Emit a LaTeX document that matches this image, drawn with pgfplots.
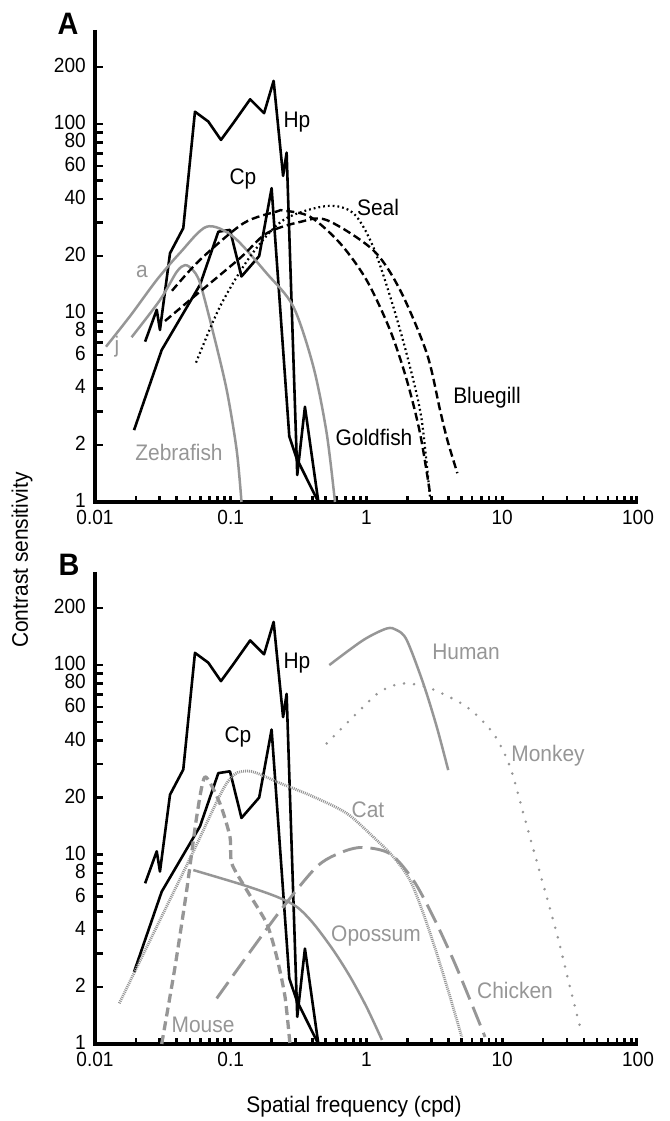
\documentclass[border=0pt]{standalone}
\usepackage{fontspec}
\setmainfont{Liberation Sans}[FakeStretch=0.93]
\usepackage{pgfplots}
\pgfplotsset{compat=1.18}
\definecolor{gcol}{RGB}{150,150,150}
\newcommand{\lf}{\fontsize{22.5}{26}\selectfont}
\newcommand{\tf}{\fontsize{20.5}{24}\selectfont}
\tikzset{
 blk/.style={black, line width=2.6pt, line join=round},
 gry/.style={gcol, line width=2.5pt, line join=round},
 tk/.style={black, line width=2.7pt, line cap=butt},
}
\begin{document}
\begin{tikzpicture}
\useasboundingbox (0pt,0pt) rectangle (669pt,1121pt);
% ---------------- Panel A ----------------
\begin{axis}[xmode=log, ymode=log, scale only axis, width=543pt, height=472pt,
  xmin=0.01, xmax=100, ymin=1, ymax=314,
  at={(95pt,619pt)}, anchor=south west,
  axis lines*=left,
  axis line style={draw=none},
  tick align=inside,
  major tick length=0pt, minor tick length=0pt,
  xtick={0.01,0.1,1,10,100}, xticklabels={0.01,0.1,1,10,100},
  ytick={1,2,4,6,8,10,20,40,60,80,100,200}, yticklabels={1,2,4,6,8,10,20,40,60,80,100,200},
  ticklabel style={font=\tf, inner sep=0pt},
  yticklabel style={xshift=-9pt, yshift=1.5pt},
  xticklabel style={yshift=-8pt},
  clip=false]
\pgfplotsinvokeforeach{0.02,0.03,0.04,0.05,0.06,0.07,0.08,0.09,0.1,0.2,0.3,0.4,0.5,0.6,0.7,0.8,0.9,1,2,3,4,5,6,7,8,9,10,20,30,40,50,60,70,80,90}{
  \draw[tk] (axis cs:#1,1) -- ([yshift=6pt]axis cs:#1,1);}
\draw[tk] ([xshift=-1.35pt]axis cs:100,1) -- ([xshift=-1.35pt,yshift=6pt]axis cs:100,1);
\pgfplotsinvokeforeach{2,3,4,5,6,7,8,9,10,20,30,40,50,60,70,80,90,100,200}{
  \draw[tk] (axis cs:0.01,#1) -- ([xshift=7.7pt]axis cs:0.01,#1);}
\draw[black, line width=3.3pt] (axis cs:0.01,314) -- (axis cs:0.01,1) -- (axis cs:100,1);
% Hp
\addplot[blk, mark=none] coordinates {(0.0234,7.05) (0.0285,10.4) (0.0301,8.13) (0.0357,20.7) (0.0447,28.1) (0.0545,116) (0.0683,103) (0.0847,82.3) (0.1044,101) (0.139,135) (0.176,114) (0.207,169) (0.243,53.1) (0.258,70.5) (0.309,1.39) (0.352,3.19) (0.442,1.0)};
% Cp
\addplot[blk, mark=none] coordinates {(0.0194,2.40) (0.031,6.37) (0.0594,14.1) (0.081,26.9) (0.0987,27.5) (0.120,15.6) (0.162,20.0) (0.200,45.7) (0.270,2.22) (0.306,1.70) (0.442,1.0)};
% Zebrafish (large)
\addplot[gry, mark=none, smooth] coordinates {(0.01205,6.63) (0.0184,9.76) (0.0285,14.95) (0.0423,20.8) (0.0665,28.6) (0.1044,25.3) (0.184,16.2) (0.289,10.8) (0.406,5.2) (0.509,2.31) (0.586,1.0)};
% Zebrafish (small)
\addplot[gry, mark=none, smooth] coordinates {(0.0186,7.44) (0.0301,11.7) (0.040,16.5) (0.046,17.9) (0.0520,17.0) (0.0594,14.4) (0.0744,7.81) (0.0934,3.91) (0.1106,1.88) (0.120,1.0)};
% Goldfish
\addplot[blk, mark=none, smooth, line width=2.4pt, dash pattern=on 8pt off 4pt] coordinates {(0.0369,13.1) (0.0594,19.1) (0.124,29.8) (0.218,34.4) (0.244,34.8) (0.384,32.3) (0.638,23.4) (1.00,14.95) (1.49,8.13) (1.98,4.42) (2.48,2.31) (2.94,1.11)};
% Bluegill
\addplot[blk, mark=none, smooth, line width=2.4pt, dash pattern=on 8pt off 4pt] coordinates {(0.0328,9.07) (0.05,11.7) (0.117,19.5) (0.184,26.4) (0.324,30.3) (0.509,31.0) (1.12,21.5) (1.77,13.2) (2.78,6.12) (3.48,3.07) (3.94,2.13) (4.67,1.42)};
% Seal
\addplot[blk, mark=none, smooth, line width=2.2pt, dash pattern=on 1.8pt off 3pt] coordinates {(0.0555,5.46) (0.0833,10.8) (0.139,19.9) (0.244,31.0) (0.509,36.8) (0.80,33.7) (1.12,22.4) (1.575,10.8) (2.09,5.2) (2.55,2.72) (2.94,1.05)};
\end{axis}
% ---------------- Panel B ----------------
\begin{axis}[xmode=log, ymode=log, scale only axis, width=543pt, height=472pt,
  xmin=0.01, xmax=100, ymin=1, ymax=310,
  at={(95pt,77pt)}, anchor=south west,
  axis lines*=left,
  axis line style={draw=none},
  tick align=inside,
  major tick length=0pt, minor tick length=0pt,
  xtick={0.01,0.1,1,10,100}, xticklabels={0.01,0.1,1,10,100},
  ytick={1,2,4,6,8,10,20,40,60,80,100,200}, yticklabels={1,2,4,6,8,10,20,40,60,80,100,200},
  ticklabel style={font=\tf, inner sep=0pt},
  yticklabel style={xshift=-9pt, yshift=1.5pt},
  xticklabel style={yshift=-8pt},
  clip=false]
\pgfplotsinvokeforeach{0.02,0.03,0.04,0.05,0.06,0.07,0.08,0.09,0.1,0.2,0.3,0.4,0.5,0.6,0.7,0.8,0.9,1,2,3,4,5,6,7,8,9,10,20,30,40,50,60,70,80,90}{
  \draw[tk] (axis cs:#1,1) -- ([yshift=6pt]axis cs:#1,1);}
\draw[tk] ([xshift=-1.35pt]axis cs:100,1) -- ([xshift=-1.35pt,yshift=6pt]axis cs:100,1);
\pgfplotsinvokeforeach{2,3,4,5,6,7,8,9,10,20,30,40,50,60,70,80,90,100,200}{
  \draw[tk] (axis cs:0.01,#1) -- ([xshift=7.7pt]axis cs:0.01,#1);}
\draw[black, line width=3.3pt] (axis cs:0.01,310) -- (axis cs:0.01,1) -- (axis cs:100,1);
% Hp
\addplot[blk, mark=none] coordinates {(0.0234,7.05) (0.0285,10.4) (0.0301,8.13) (0.0357,20.7) (0.0447,28.1) (0.0545,116) (0.0683,103) (0.0847,82.3) (0.1044,101) (0.139,135) (0.176,114) (0.207,169) (0.243,53.1) (0.258,70.5) (0.309,1.39) (0.352,3.19) (0.442,1.0)};
% Cp
\addplot[blk, mark=none] coordinates {(0.0194,2.40) (0.031,6.37) (0.0594,14.1) (0.081,26.9) (0.0987,27.5) (0.120,15.6) (0.162,20.0) (0.200,45.7) (0.270,2.22) (0.306,1.70) (0.442,1.0)};
% Human
\addplot[gry, mark=none, smooth] coordinates {(0.532,100) (0.947,135.5) (1.41,156) (1.67,153) (1.98,135.5) (2.62,80) (3.29,47.3) (4.0,27.9)};
% Monkey
\addplot[gry, mark=none, smooth, line width=2.8pt, line cap=round, dash pattern=on 0pt off 10pt] coordinates {(0.509,38.6) (0.847,55.6) (1.257,72.3) (1.87,80) (2.94,75.4) (5.47,60.2) (8.59,43.6) (11.4,29.1) (14.3,16.5) (19.0,7.96) (25.2,3.84) (31.5,2.01) (38.5,1.14)};
% Cat
\addplot[gry, mark=none, smooth, line width=2.8pt, dash pattern=on 1pt off 1pt] coordinates {(0.0151,1.64) (0.05,9.5) (0.0934,23.8) (0.134,27.6) (0.231,23.8) (0.406,20.2) (0.715,16.5) (1.12,12.4) (1.575,9.73) (2.09,7.33) (2.62,4.89) (3.29,3.01) (4.12,1.78) (5.03,1.09)};
% Chicken
\addplot[gry, mark=none, smooth, line width=2.9pt, dash pattern=on 20pt off 8pt] coordinates {(0.0788,1.74) (0.139,3.07) (0.244,5.30) (0.43,8.62) (0.638,10.2) (0.927,10.9) (1.49,10.1) (2.21,7.33) (3.1,4.70) (4.36,2.78) (5.79,1.71) (7.47,1.09)};
% Opossum
\addplot[gry, mark=none, smooth] coordinates {(0.053,8.28) (0.124,6.90) (0.218,5.99) (0.306,5.30) (0.406,4.33) (0.569,3.13) (0.756,2.27) (1.0,1.57) (1.30,1.05)};
% Mouse
\addplot[gry, mark=none, smooth, tension=0.4, line width=3.3pt, dash pattern=on 9pt off 5pt] coordinates {(0.031,1.0) (0.0389,2.56) (0.0474,6.50) (0.0561,15.8) (0.0646,25.7) (0.0833,18.6) (0.0987,12.4) (0.1016,8.99) (0.131,6.50) (0.184,4.33) (0.218,2.89) (0.251,1.78) (0.273,1.0)};
\end{axis}
% ---------------- Labels ----------------
\node[font=\fontsize{31}{35}\selectfont\bfseries] at (68pt,1097pt) {A};
\node[font=\fontsize{31}{35}\selectfont\bfseries] at (69pt,556pt) {B};
\node[font=\lf, rotate=90] at (22pt,561pt) {Contrast sensitivity};
\node[font=\lf] at (354pt,14pt) {Spatial frequency (cpd)};
% panel A labels
\node[font=\lf] at (297pt,999pt) {Hp};
\node[font=\lf] at (243pt,942pt) {Cp};
\node[font=\lf] at (378pt,914pt) {Seal};
\node[font=\lf] at (374pt,684pt) {Goldfish};
\node[font=\lf] at (487pt,723pt) {Bluegill};
\node[font=\lf, gcol] at (179pt,669pt) {Zebrafish};
\node[font=\lf, gcol] at (142pt,849pt) {a};
\node[font=\lf, gcol] at (117pt,774pt) {j};
% panel B labels
\node[font=\lf] at (297pt,458pt) {Hp};
\node[font=\lf] at (238pt,384pt) {Cp};
\node[font=\lf, gcol] at (466pt,469pt) {Human};
\node[font=\lf, gcol] at (548pt,365pt) {Monkey};
\node[font=\lf, gcol] at (368pt,311pt) {Cat};
\node[font=\lf, gcol] at (376pt,185pt) {Opossum};
\node[font=\lf, gcol] at (515pt,131pt) {Chicken};
\node[font=\lf, gcol] at (203pt,96pt) {Mouse};
\end{tikzpicture}
\end{document}
